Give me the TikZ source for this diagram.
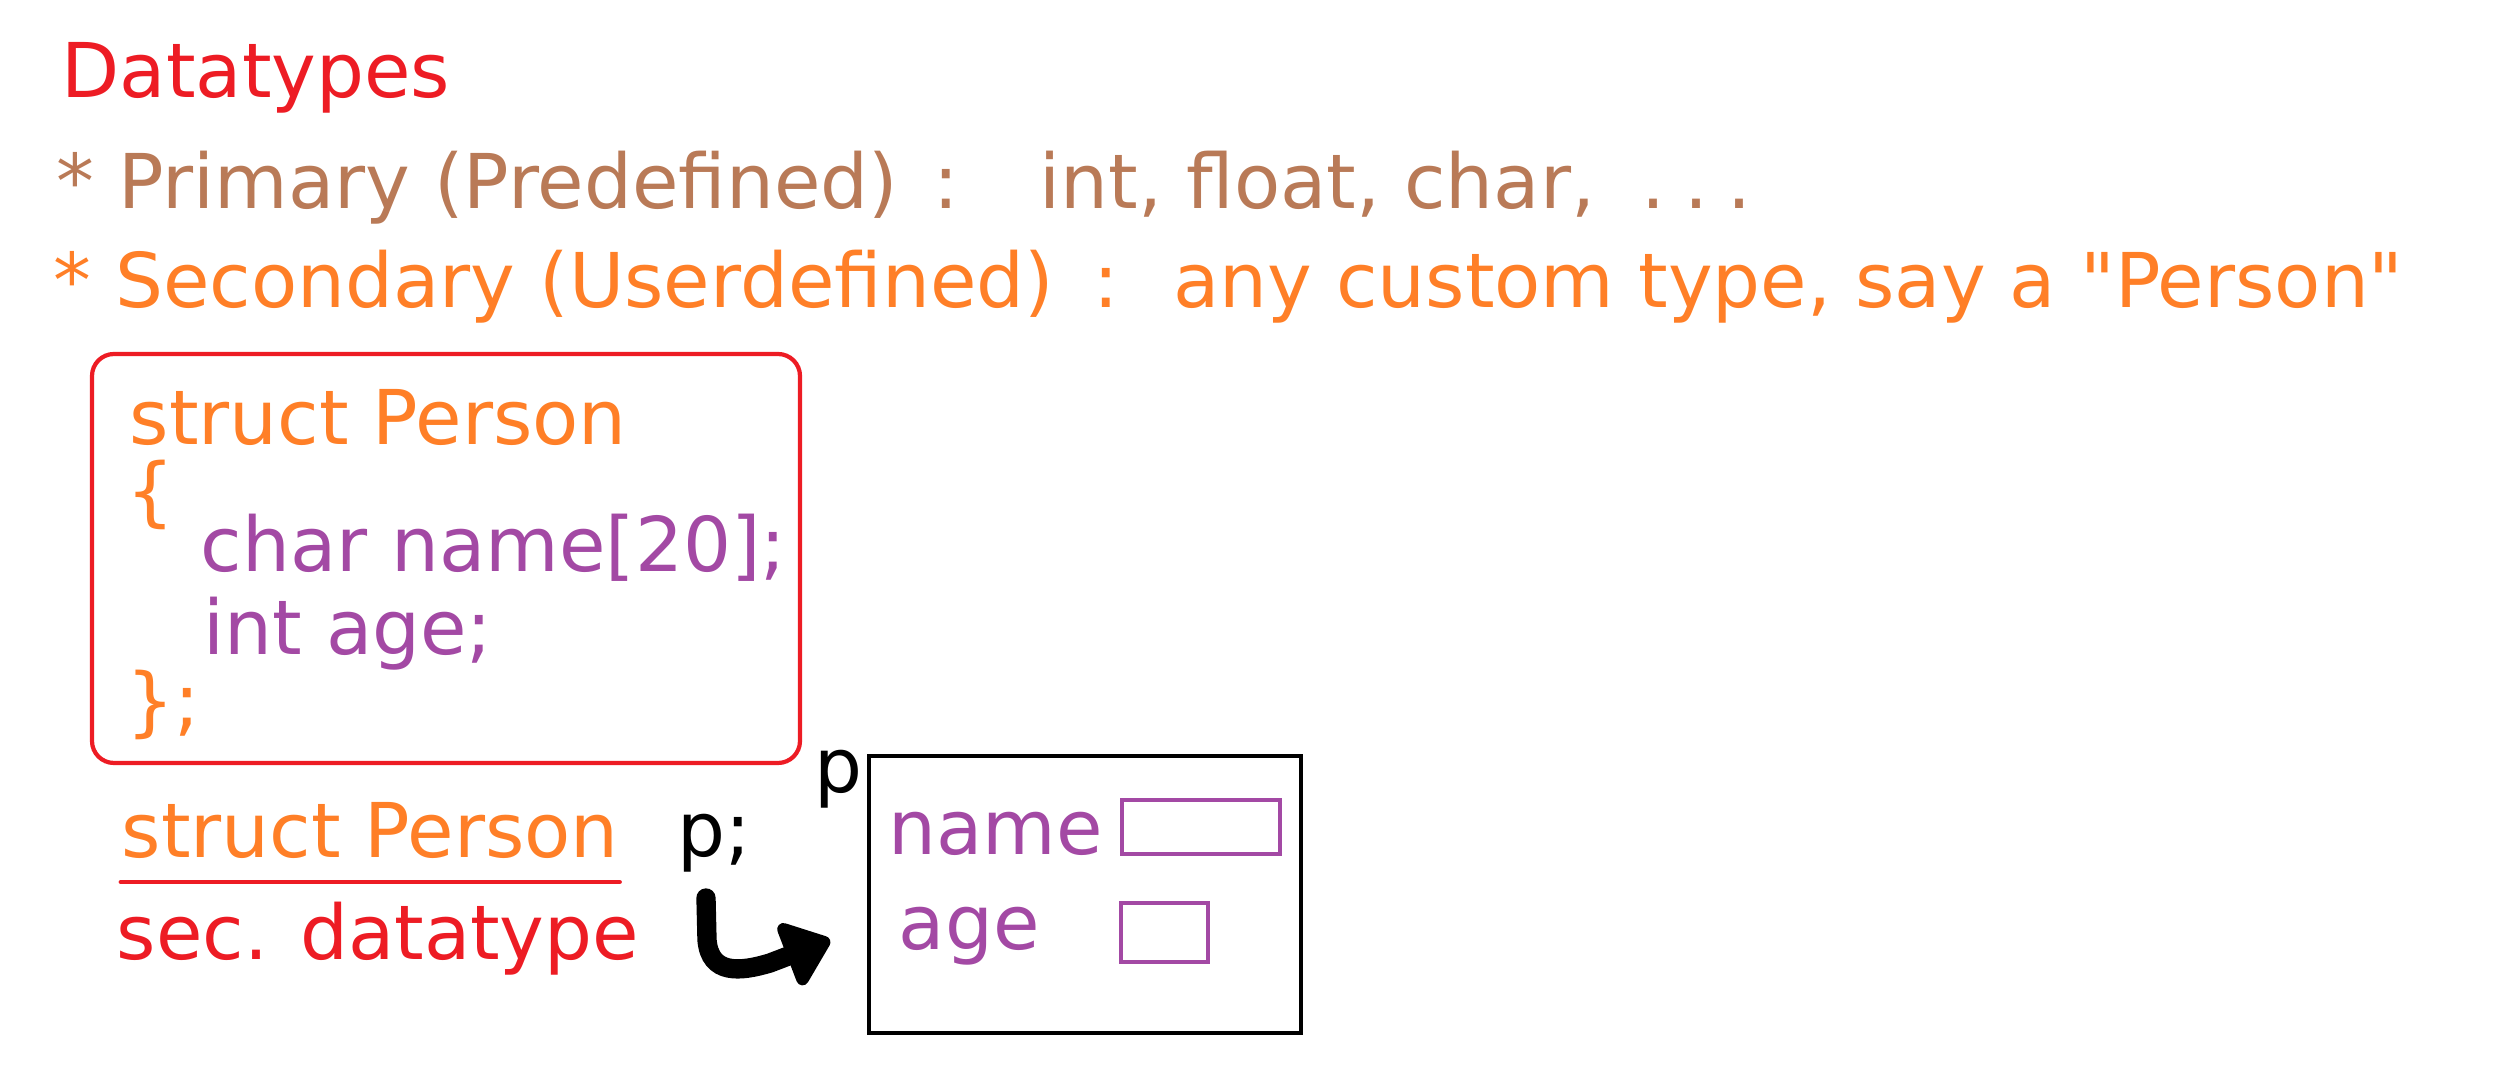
\documentclass[tikz,border=0pt]{standalone}
\usepackage{fontspec}
\setmainfont{DejaVu Sans}
\usetikzlibrary{positioning,arrows.meta}
\definecolor{title red}{HTML}{ED1C24}
\definecolor{primary brown}{HTML}{B97A57}
\definecolor{user orange}{HTML}{FF7F27}
\definecolor{member purple}{HTML}{A349A4}
\tikzset{words/.style={font=\fontsize{21.5}{25}\selectfont, inner sep=0pt, anchor=base west},
	cell/.style={draw=member purple, line width=0.9pt},
	hook/.style={line width=5.5pt, line cap=round, -{Triangle[length=0.5cm, width=0.76cm, round]}}}

\begin{document}
\begin{tikzpicture}
		\useasboundingbox (0,0) rectangle (25.08,-10.72);
		
		\node[words, title red] (title) at (0.61,-0.98) {Datatypes};
		\node[words, primary brown] (primary) at (0.56,-2.09) {* Primary (Predefined)\hspace{0.15em} :\hspace{0.65em} int, float, char,\hspace{0.3em} .\hspace{0.25em}.\hspace{0.25em}.};
		\node[words, user orange] (secondary) at (0.53,-3.08) {* Secondary (Userdefined)\hspace{0.2em} :\hspace{0.3em} any custom type, say a \textquotedbl Person\textquotedbl};
		
		\draw[title red, line width=1.2pt, rounded corners=0.22cm] (0.92,-3.54) rectangle (8.00,-7.63);
		\node[words, user orange] (head) at (1.29,-4.45) {struct Person};
		\node[words, user orange] (open) at (1.26,-5.18) {\{};
		\node[words, member purple] (name line) at (2.00,-5.72) {char name[20];};
		\node[words, member purple] (age line) at (2.03,-6.55) {int age;};
		\node[words, user orange] (close) at (1.26,-7.28) {\};};
		
		\node[words, user orange] (decl) at (1.21,-8.58) {struct Person};
		\node[words] (var) at (6.77,-8.57) {p;};
		\draw[title red, line width=1.4pt, line cap=round] ([yshift=-0.24cm]decl.base west) -- ([yshift=-0.24cm]decl.base east);
		\node[words, title red] (kind) at (1.16,-9.60) {sec. datatype};
		
		\node[draw, line width=1.1pt, minimum width=4.32cm, minimum height=2.77cm] (obj) at (10.85,-8.945) {};
		\node[words] (obj name) at (8.14,-7.93) {p};
		\node[words, member purple] (name field) at (8.88,-8.55) {name};
		\node[words, member purple] (age field) at (8.98,-9.50) {age};
		\draw[cell] (11.22,-8.00) rectangle (12.80,-8.54);
		\draw[cell] (11.21,-9.03) rectangle (12.08,-9.62);
		
		\coordinate (hook start) at (7.06,-8.98);
		\coordinate (hook tip) at (8.30,-9.40);
		\draw[hook] (hook start) -- (7.07,-9.40) .. controls (7.10,-9.75) and (7.40,-9.72) .. (7.70,-9.63) -- (hook tip);
		
		\end{tikzpicture}
\end{document}
